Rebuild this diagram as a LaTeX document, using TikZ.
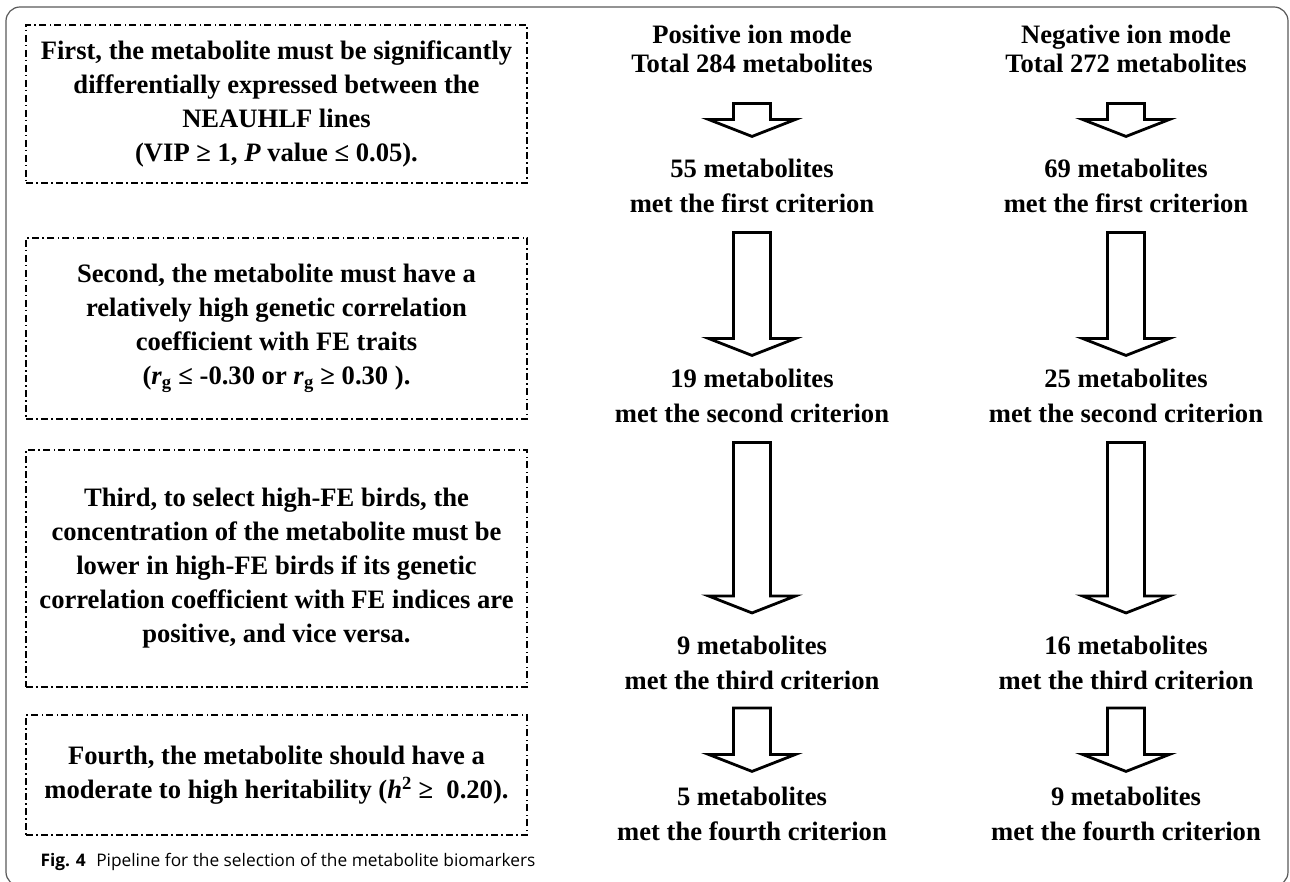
\documentclass[tikz,border=0pt]{standalone}
\usepackage{fontspec}
\setmainfont{Liberation Serif}
\newfontfamily\capfont{Open Sans}
\usetikzlibrary{calc}

\newcommand{\critfont}{\fontsize{26.6}{34}\selectfont\bfseries}
\newcommand{\headfont}{\fontsize{26.6}{29}\selectfont\bfseries}
\newcommand{\stepfont}{\fontsize{26.6}{35}\selectfont\bfseries}

\tikzset{
  critbox/.style={draw, line width=1.4pt, dash pattern=on 7pt off 3pt on 1.5pt off 3.5pt,
    minimum width=501pt, inner sep=0pt, align=center, font=\critfont},
  headbox/.style={inner sep=0pt, align=center, font=\headfont},
  countbox/.style={inner sep=0pt, align=center, font=\stepfont},
  fatarrow/.style={draw, line width=2.8pt, miter limit=10}
}

% hollow block arrow: upper node, lower node, gap below upper, gap above lower
\newcommand{\fatarrow}[4]{%
  \draw[fatarrow] let \p1=($(#1.south)+(0,#3)$), \p2=($(#2.north)-(0,#4)$) in
    (\x1-18.5pt,\y1) -- (\x1+18.5pt,\y1) -- (\x1+18.5pt,\y2+17pt) -- (\x1+43.5pt,\y2+17pt)
    -- (\x1,\y2) -- (\x1-43.5pt,\y2+17pt) -- (\x1-18.5pt,\y2+17pt) -- cycle;}

\begin{document}
\begin{tikzpicture}[x=1pt, y=-1pt]
\useasboundingbox (0,0) rectangle (1290,882);
\draw[black!65, line width=1.2pt, rounded corners=14pt] (6,7) rectangle (1288,886);

% criteria
\node[critbox, minimum height=158pt] (c1) at (276.5,104) {First, the metabolite must be significantly\\differentially expressed between the\\NEAUHLF lines\\(VIP ≥ 1, \textit{P} value ≤ 0.05).};
\node[critbox, minimum height=181pt] (c2) at (276.5,328.5) {Second, the metabolite must have a\\relatively high genetic correlation\\coefficient with FE traits\\(\textit{r}\textsubscript{g} ≤ -0.30 or \textit{r}\textsubscript{g} ≥ 0.30 ).};
\node[critbox, minimum height=237pt] (c3) at (276.5,568.5) {Third, to select high-FE birds, the\\concentration of the metabolite must be\\lower in high-FE birds if its genetic\\correlation coefficient with FE indices are\\positive, and vice versa.};
\node[critbox, minimum height=120pt] (c4) at (276.5,775) {Fourth, the metabolite should have a\\moderate to high heritability (\textit{h}\textsuperscript{2} ≥ \ 0.20).};

% positive ion mode
\node[headbox] (p0) at (752,48.5) {Positive ion mode\\Total 284 metabolites};
\node[countbox] (p1) at (752,185.5) {55 metabolites\\met the first criterion};
\node[countbox] (p2) at (752,395.5) {19 metabolites\\met the second criterion};
\node[countbox] (p3) at (752,663) {9 metabolites\\met the third criterion};
\node[countbox] (p4) at (752,813.5) {5 metabolites\\met the fourth criterion};

% negative ion mode
\node[headbox] (n0) at (1126,48.5) {Negative ion mode\\Total 272 metabolites};
\node[countbox] (n1) at (1126,185.5) {69 metabolites\\met the first criterion};
\node[countbox] (n2) at (1126,395.5) {25 metabolites\\met the second criterion};
\node[countbox] (n3) at (1126,663) {16 metabolites\\met the third criterion};
\node[countbox] (n4) at (1126,813.5) {9 metabolites\\met the fourth criterion};

\fatarrow{p0}{p1}{31}{22}
\fatarrow{p1}{p2}{20}{13}
\fatarrow{p2}{p3}{20}{23}
\fatarrow{p3}{p4}{18}{15}
\fatarrow{n0}{n1}{31}{22}
\fatarrow{n1}{n2}{20}{13}
\fatarrow{n2}{n3}{20}{23}
\fatarrow{n3}{n4}{18}{15}

\node[anchor=base west, font={\capfont\fontsize{17.3}{20}\selectfont}] (cap) at (37,866)
  {\textbf{Fig. 4}\hspace{0.6em}Pipeline for the selection of the metabolite biomarkers};
\end{tikzpicture}
\end{document}
